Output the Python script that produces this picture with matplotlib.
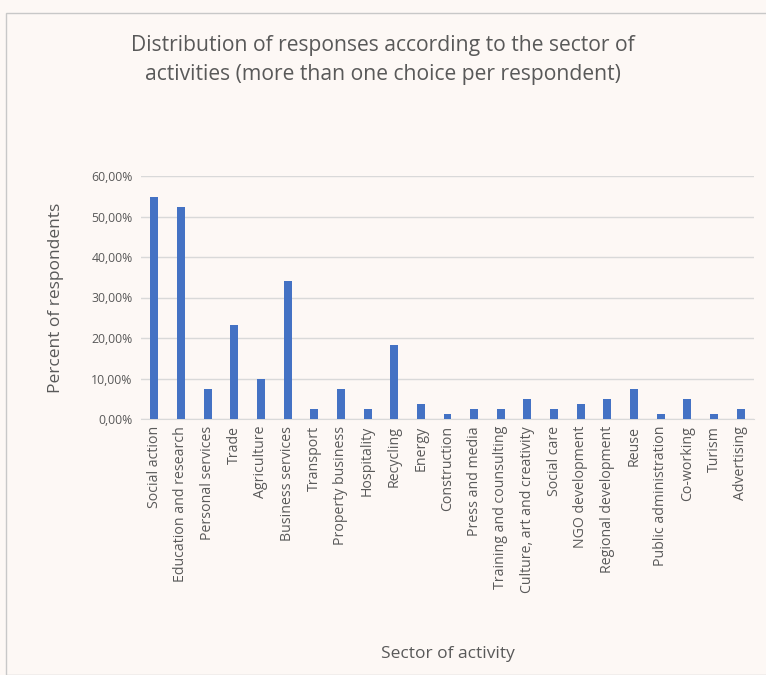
import matplotlib
matplotlib.use("Agg")
import matplotlib.pyplot as plt
from matplotlib.patches import Rectangle
from matplotlib.ticker import FuncFormatter

sectors = ["Social action", "Education and research", "Personal services", "Trade",
           "Agriculture", "Business services", "Transport", "Property business",
           "Hospitality", "Recycling", "Energy", "Construction", "Press and media",
           "Training and counsulting", "Culture, art and creativity", "Social care",
           "NGO development", "Regional development", "Reuse", "Public administration",
           "Co-working", "Turism", "Advertising"]
percent = [54.88, 52.44, 7.32, 23.17, 9.76, 34.15, 2.44, 7.32, 2.44, 18.29, 3.66,
           1.22, 2.44, 2.44, 4.88, 2.44, 3.66, 4.88, 7.32, 1.22, 4.88, 1.22, 2.44]

bg = "#FDF8F5"
grey = "#595959"
plt.rcParams['font.family'] = ['Open Sans', 'DejaVu Sans']

fig = plt.figure(figsize=(7.66, 6.75), dpi=100, facecolor=bg)
fig.patches.append(Rectangle((6/766, 0), 1.0, 1 - 13/675, transform=fig.transFigure,
                             fill=False, edgecolor="#C8C8C8", linewidth=1))
ax = fig.add_axes([141/766, 1 - 419/675, (754 - 141)/766, (419 - 176)/675])
ax.set_facecolor(bg)

x = range(len(sectors))
ax.bar(x, [p / 100 for p in percent], width=0.3, color="#4472C4", zorder=3)

ax.set_ylim(0, 0.6)
ax.set_yticks([i / 10 for i in range(7)])
ax.yaxis.set_major_formatter(FuncFormatter(lambda v, p: f"{v*100:.2f}%".replace(".", ",")))
ax.set_xlim(-0.5, len(sectors) - 0.5)
ax.set_xticks(list(x))
ax.set_xticklabels(sectors, rotation=90, fontsize=10.2, color=grey)
ax.tick_params(axis='y', labelsize=8.8, colors=grey, length=0, pad=6)
ax.tick_params(axis='x', length=0, pad=5)
ax.grid(axis='y', color="#D9D9D9", linewidth=1, zorder=0)
for s in ["top", "right", "left"]:
    ax.spines[s].set_visible(False)
ax.spines["bottom"].set_color("#D9D9D9")

ax.set_ylabel("Percent of respondents", fontsize=12.5, color=grey, labelpad=20)
fig.text(448/766, 1 - 654/675, "Sector of activity", ha="center", va="center", fontsize=12.5, color=grey)
fig.text(383/766, 1 - 60/675, "Distribution of responses according to the sector of\nactivities (more than one choice per respondent)",
         ha="center", va="center", fontsize=15.2, color=grey, linespacing=1.45)

fig.savefig("out.png", dpi=100, facecolor=bg)
